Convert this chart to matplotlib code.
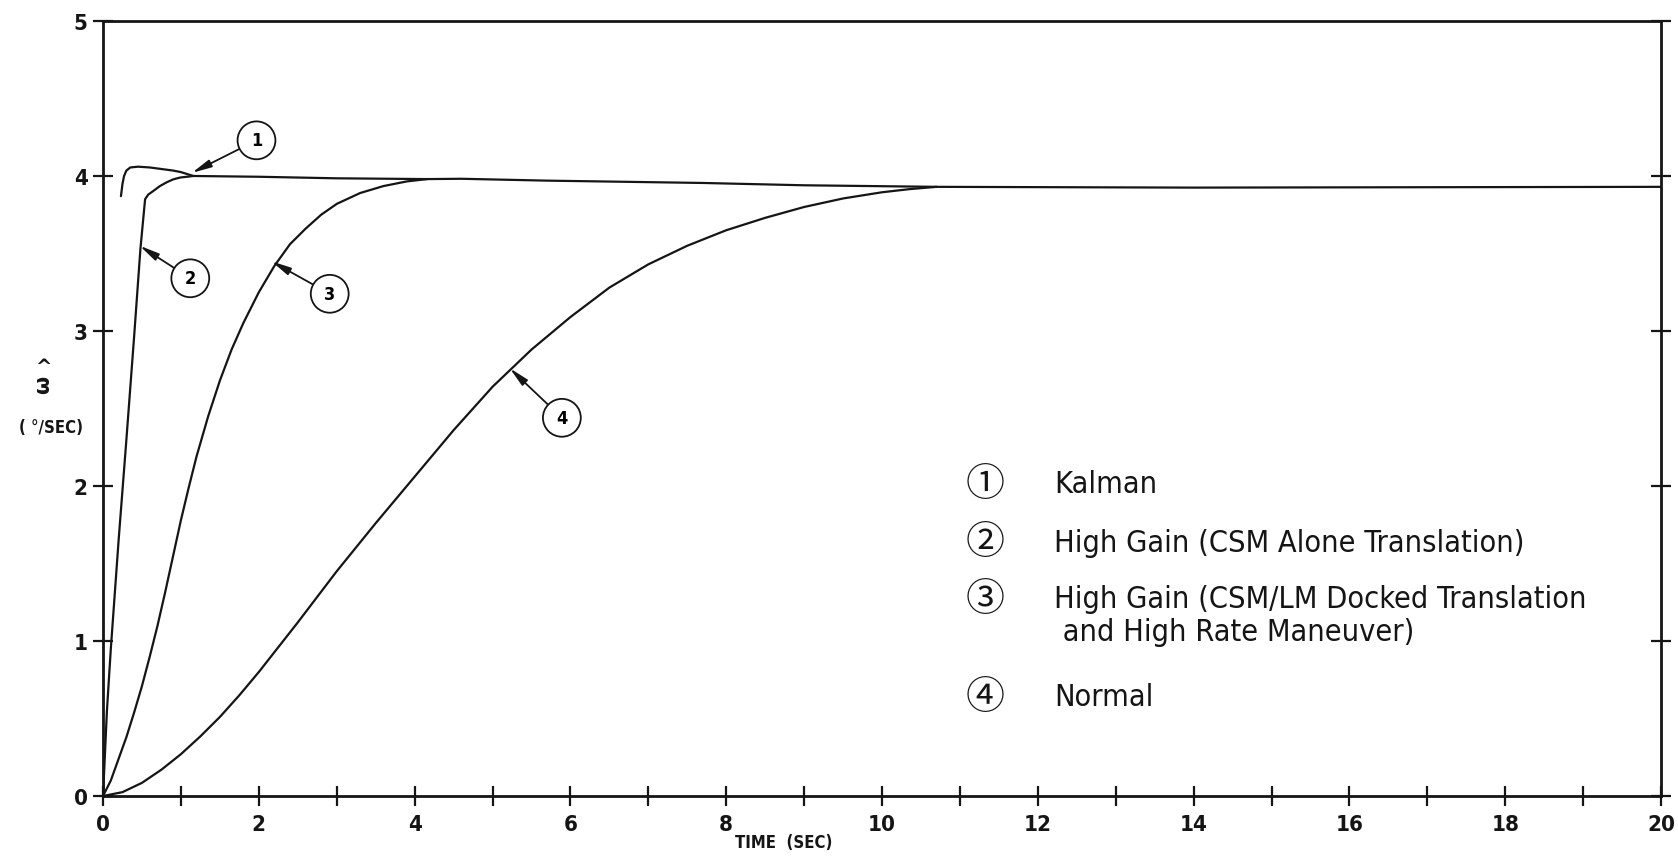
import matplotlib
matplotlib.use('Agg')
import matplotlib.pyplot as plt
from matplotlib import font_manager

# condensed sans if the system has one
cond = 'DejaVu Sans'
stretch = 'normal'
for f in font_manager.fontManager.ttflist:
    if f.name == 'Liberation Sans Narrow':
        cond, stretch = 'Liberation Sans Narrow', 'normal'
        break
    if f.name == 'DejaVu Sans' and str(f.stretch) in ('condensed', 'semi-condensed', '600', '700'):
        stretch = 'condensed'

# --- data (time in sec, rate in deg/sec) ---
kalman_t = [0.23, 0.25, 0.27, 0.30, 0.35, 0.45, 0.60, 0.75, 0.90, 1.00, 1.16]
kalman_w = [3.87, 3.95, 4.00, 4.035, 4.055, 4.06, 4.055, 4.045, 4.035, 4.025, 4.00]

high_t = [0.0, 0.05, 0.10, 0.20, 0.30, 0.40, 0.48, 0.54, 0.58, 0.65, 0.73, 0.82,
          0.90, 0.99, 1.16]
high_w = [0.0, 0.55, 0.95, 1.65, 2.30, 2.97, 3.53, 3.85, 3.88, 3.905, 3.935, 3.96,
          3.978, 3.99, 4.00]

docked_t = [0.0, 0.1, 0.2, 0.3, 0.4, 0.5, 0.6, 0.7, 0.8, 0.9, 1.0, 1.1, 1.2, 1.35,
            1.5, 1.65, 1.8, 2.0, 2.2, 2.4, 2.6, 2.8, 3.0, 3.3, 3.6, 3.9, 4.16]
docked_w = [0.0, 0.10, 0.24, 0.38, 0.54, 0.71, 0.90, 1.10, 1.32, 1.55, 1.78, 1.99,
            2.19, 2.45, 2.68, 2.88, 3.05, 3.25, 3.42, 3.56, 3.66, 3.75, 3.82, 3.89,
            3.935, 3.965, 3.98]

normal_t = [0.0, 0.25, 0.5, 0.75, 1.0, 1.25, 1.5, 1.75, 2.0, 2.5, 3.0, 3.5, 4.0,
            4.5, 5.0, 5.5, 6.0, 6.5, 7.0, 7.5, 8.0, 8.5, 9.0, 9.5, 10.0, 10.35, 10.7]
normal_w = [0.0, 0.025, 0.085, 0.17, 0.27, 0.385, 0.51, 0.65, 0.80, 1.12, 1.45,
            1.76, 2.06, 2.36, 2.64, 2.88, 3.09, 3.28, 3.43, 3.55, 3.65, 3.73, 3.80,
            3.855, 3.895, 3.915, 3.93]

# common steady-state line all four run into
steady_t = [1.16, 2.0, 3.0, 4.16, 4.6, 5.7, 7.7, 9.0, 10.7, 14.0, 20.0]
steady_w = [4.00, 3.995, 3.985, 3.98, 3.982, 3.97, 3.955, 3.94, 3.93, 3.925, 3.93]

labels = ['Kalman',
          'High Gain (CSM Alone Translation)',
          'High Gain (CSM/LM Docked Translation\n and High Rate Maneuver)',
          'Normal']
# (circle position, arrow tip) for the numbered callouts
callouts = [((1.97, 4.23), (1.14, 4.02)),
            ((1.12, 3.34), (0.47, 3.55)),
            ((2.91, 3.24), (2.16, 3.45)),
            ((5.89, 2.44), (5.22, 2.76))]

fig = plt.figure(figsize=(16.78, 8.62), dpi=100)
ax = fig.add_axes([0.0614, 0.0754, 0.9285, 0.8991])

lc = '#151515'
for t, w in [(kalman_t, kalman_w), (high_t, high_w), (docked_t, docked_w),
             (normal_t, normal_w), (steady_t, steady_w)]:
    ax.plot(t, w, color=lc, lw=1.6, solid_capstyle='round', solid_joinstyle='round')

for i, (circ, tip) in enumerate(callouts):
    ax.annotate(str(i + 1), xy=tip, xytext=circ, ha='center', va='center',
                fontsize=13, fontfamily=cond, fontstretch=stretch, fontweight='bold',
                bbox=dict(boxstyle='circle,pad=0.55', fc='white', ec=lc, lw=1.3),
                arrowprops=dict(arrowstyle='-|>,head_length=0.9,head_width=0.18',
                                color=lc, lw=1.3, shrinkA=0, shrinkB=0))

ax.set_xlim(0, 20)
ax.set_ylim(0, 5)
ax.set_xticks(range(0, 21))
ax.set_xticklabels([str(i) if i % 2 == 0 else '' for i in range(0, 21)])
ax.set_yticks(range(0, 6))
ax.tick_params(axis='x', direction='inout', length=14, width=1.6, pad=6,
               labelsize=16, colors=lc)
ax.tick_params(axis='y', direction='inout', length=14, width=1.6, pad=4,
               labelsize=16, colors=lc, right=True)
for lab in ax.get_xticklabels() + ax.get_yticklabels():
    lab.set_fontfamily(cond)
    lab.set_fontstretch(stretch)
    lab.set_fontweight('bold')
for s in ax.spines.values():
    s.set_linewidth(2.0)
    s.set_color(lc)

# y label: hat omega and units
fig.text(43 / 1678, 1 - 368 / 862, '^', ha='center', va='center', fontsize=14,
         fontweight='bold', color=lc)
fig.text(43 / 1678, 1 - 385 / 862, 'ω', ha='center', va='center', fontsize=15,
         rotation=90, fontweight='bold', color=lc)
fig.text(51 / 1678, 1 - 428 / 862, '( °/SEC)', ha='center', va='center', fontsize=12,
         fontfamily=cond, fontstretch=stretch, fontweight='bold', color=lc)
fig.text(784 / 1678, 1 - 843 / 862, 'TIME  (SEC)', ha='center', va='center',
         fontsize=12, fontfamily=cond, fontstretch=stretch, fontweight='bold', color=lc)

# key at the lower right
rows = [485, 543, 600, 698]
for i, (y, lab) in enumerate(zip(rows, labels)):
    fig.text(985 / 1678, 1 - y / 862, '①②③④'[i], ha='center', va='center',
             fontsize=28, family=['Noto Sans CJK JP', 'DejaVu Sans'], color=lc)
    for k, line in enumerate(lab.split('\n')):
        fig.text(1054 / 1678, 1 - (y + 33 * k) / 862, line, ha='left', va='center',
                 fontsize=22, fontfamily=cond, fontstretch=stretch, color=lc)

fig.savefig('out.png', dpi=100, facecolor='white')
